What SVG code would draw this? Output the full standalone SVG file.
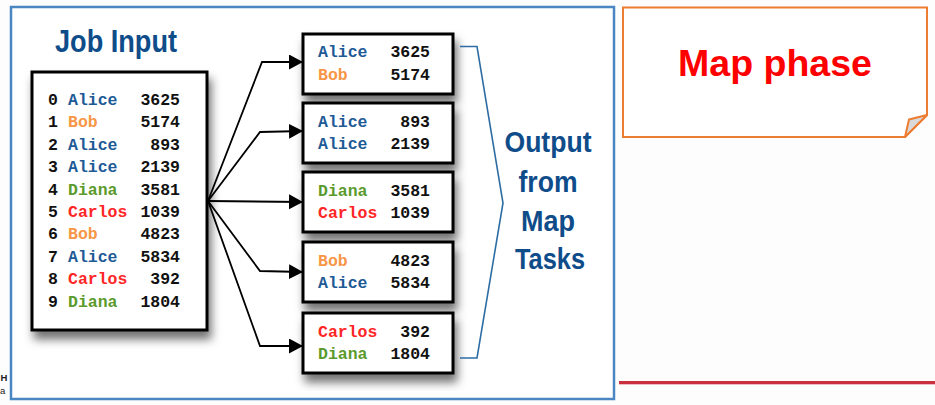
<svg xmlns="http://www.w3.org/2000/svg" width="935" height="405" viewBox="0 0 935 405">
<style>
.mono{font-family:"Liberation Mono","Courier New",monospace;font-size:16.5px;font-weight:bold;}
.idx{fill:#111;}
.num{fill:#111;text-anchor:end;}
.al{fill:#1d5a96;}
.bo{fill:#f79646;}
.di{fill:#5b9a2c;}
.ca{fill:#ff2626;}
.box{fill:#fff;stroke:#000;stroke-width:3;}
.title{font-family:"Liberation Sans",Arial,sans-serif;font-weight:bold;fill:#0f4c8a;text-anchor:middle;}
.arrow{fill:none;stroke:#000;stroke-width:1.8;marker-end:url(#ah);}
</style>
<defs>
<marker id="ah" markerUnits="userSpaceOnUse" markerWidth="16" markerHeight="16" refX="14" refY="7.5" orient="auto">
<path d="M0,0 L14,7.5 L0,15 Z" fill="#000"/>
</marker>
<filter id="sh" x="-20%" y="-20%" width="150%" height="150%">
<feDropShadow dx="3" dy="8" stdDeviation="5" flood-color="#000" flood-opacity="0.55"/>
</filter>
</defs>
<rect width="935" height="405" fill="#fdfdfd"/>
<rect id="frame" x="11" y="7" width="603" height="392" fill="#fff" stroke="#4a87c2" stroke-width="2.5"/>
<g id="left-fragments" font-family="Liberation Sans,Arial,sans-serif" font-size="9.5" fill="#222">
<text x="0.5" y="381" font-weight="bold">H</text>
<text x="0" y="394">a</text>
</g>

<g id="job-input-title"><text class="title" x="116" y="52" font-size="32" textLength="122" lengthAdjust="spacingAndGlyphs">Job Input</text></g>

<g id="input-box">
<rect class="box" x="32" y="72" width="175" height="258" filter="url(#sh)"/>
<g class="mono">
<text class="idx" x="48" y="105">0</text><text class="al" x="68" y="105">Alice</text><text class="num" x="180" y="105">3625</text>
<text class="idx" x="48" y="127.4">1</text><text class="bo" x="68" y="127.4">Bob</text><text class="num" x="180" y="127.4">5174</text>
<text class="idx" x="48" y="149.8">2</text><text class="al" x="68" y="149.8">Alice</text><text class="num" x="180" y="149.8">893</text>
<text class="idx" x="48" y="172.2">3</text><text class="al" x="68" y="172.2">Alice</text><text class="num" x="180" y="172.2">2139</text>
<text class="idx" x="48" y="194.6">4</text><text class="di" x="68" y="194.6">Diana</text><text class="num" x="180" y="194.6">3581</text>
<text class="idx" x="48" y="217">5</text><text class="ca" x="68" y="217">Carlos</text><text class="num" x="180" y="217">1039</text>
<text class="idx" x="48" y="239.4">6</text><text class="bo" x="68" y="239.4">Bob</text><text class="num" x="180" y="239.4">4823</text>
<text class="idx" x="48" y="261.8">7</text><text class="al" x="68" y="261.8">Alice</text><text class="num" x="180" y="261.8">5834</text>
<text class="idx" x="48" y="284.2">8</text><text class="ca" x="68" y="284.2">Carlos</text><text class="num" x="180" y="284.2">392</text>
<text class="idx" x="48" y="306.6">9</text><text class="di" x="68" y="306.6">Diana</text><text class="num" x="180" y="306.6">1804</text>
</g>
</g>

<g id="out1">
<rect class="box" x="303" y="34" width="150" height="60" filter="url(#sh)"/>
<g class="mono"><text class="al" x="318" y="57">Alice</text><text class="num" x="430" y="57">3625</text>
<text class="bo" x="318" y="79.5">Bob</text><text class="num" x="430" y="79.5">5174</text></g>
</g>
<g id="out2">
<rect class="box" x="303" y="103" width="150" height="60" filter="url(#sh)"/>
<g class="mono"><text class="al" x="318" y="126.5">Alice</text><text class="num" x="430" y="126.5">893</text>
<text class="al" x="318" y="149">Alice</text><text class="num" x="430" y="149">2139</text></g>
</g>
<g id="out3">
<rect class="box" x="303" y="172" width="150" height="60" filter="url(#sh)"/>
<g class="mono"><text class="di" x="318" y="195.5">Diana</text><text class="num" x="430" y="195.5">3581</text>
<text class="ca" x="318" y="218">Carlos</text><text class="num" x="430" y="218">1039</text></g>
</g>
<g id="out4">
<rect class="box" x="303" y="242" width="150" height="60" filter="url(#sh)"/>
<g class="mono"><text class="bo" x="318" y="265.5">Bob</text><text class="num" x="430" y="265.5">4823</text>
<text class="al" x="318" y="288">Alice</text><text class="num" x="430" y="288">5834</text></g>
</g>
<g id="out5">
<rect class="box" x="303" y="313" width="150" height="60" filter="url(#sh)"/>
<g class="mono"><text class="ca" x="318" y="336.5">Carlos</text><text class="num" x="430" y="336.5">392</text>
<text class="di" x="318" y="359">Diana</text><text class="num" x="430" y="359">1804</text></g>
</g>

<g id="connectors">
<path class="arrow" d="M208,201 L262,62 L303,62"/>
<path class="arrow" d="M208,201 L260,132 L303,131"/>
<path class="arrow" d="M208,201 L303,202"/>
<path class="arrow" d="M208,201 L260,271 L303,272"/>
<path class="arrow" d="M208,201 L260,346 L303,346"/>
</g>

<g id="brace"><path d="M460,46.5 L477,46.5 L503,203 L477,358 L460,358" fill="none" stroke="#2e6da4" stroke-width="1.6"/></g>

<g id="output-label">
<text class="title" x="548" y="152" font-size="29" textLength="87" lengthAdjust="spacingAndGlyphs">Output</text>
<text class="title" x="548" y="191.5" font-size="29" textLength="59" lengthAdjust="spacingAndGlyphs">from</text>
<text class="title" x="548" y="231" font-size="29" textLength="54" lengthAdjust="spacingAndGlyphs">Map</text>
<text class="title" x="550" y="268.5" font-size="29" textLength="70" lengthAdjust="spacingAndGlyphs">Tasks</text>
</g>

<g id="map-phase">
<path d="M623,7.5 L927,7.5 L927,115 L905,137 L623,137 Z" fill="#fff" stroke="#ed7d31" stroke-width="2"/>
<path d="M905,137 L909,119.5 L927,115 Z" fill="#d9d9d9" stroke="#ed7d31" stroke-width="2" stroke-linejoin="round"/>
<text x="775" y="76" text-anchor="middle" font-family="Liberation Sans,Arial,sans-serif" font-weight="bold" font-size="37.5" fill="#ff0000">Map phase</text>
</g>

<rect id="red-line" x="619" y="381" width="316" height="3.3" fill="#c9303f"/>
</svg>
